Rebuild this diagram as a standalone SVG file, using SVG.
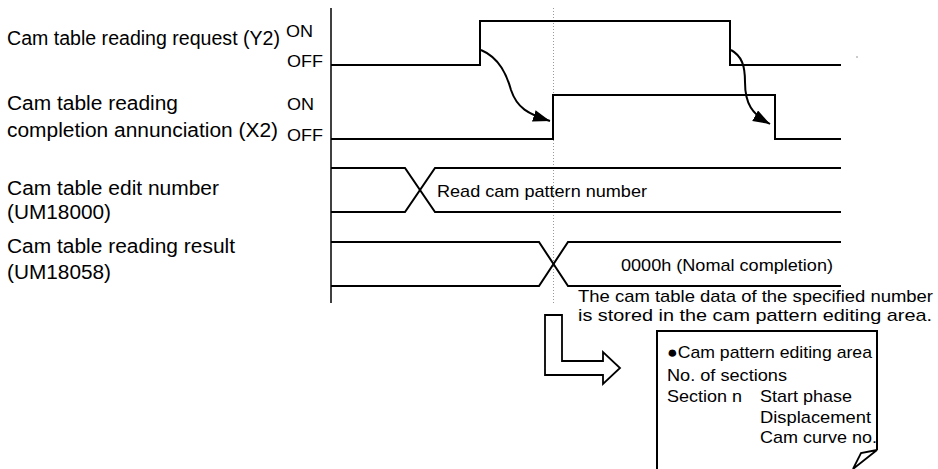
<svg xmlns="http://www.w3.org/2000/svg" width="938" height="469" viewBox="0 0 938 469">
<style>
  .lbl { font-family: "Liberation Sans", Arial, sans-serif; font-size: 20px; fill: #000; }
  .sm { font-family: "Liberation Sans", Arial, sans-serif; font-size: 17px; fill: #000; }
  .sig { fill: none; stroke: #000; stroke-width: 2; stroke-linejoin: miter; }
  .ax { fill: none; stroke: #000; stroke-width: 1.5; }
  .cur { fill: none; stroke: #000; stroke-width: 2; }
  .dot { fill: none; stroke: #999; stroke-width: 1; stroke-dasharray: 1 2; }
</style>
<defs>
  <marker id="ah" markerUnits="userSpaceOnUse" markerWidth="20" markerHeight="14" refX="17" refY="6" orient="auto">
    <path d="M0,0 L17,6 L0,12 Z" fill="#000"/>
  </marker>
</defs>
<rect width="938" height="469" fill="#fff"/>

<g id="labels">
  <text class="lbl" x="7" y="45" textLength="273" lengthAdjust="spacingAndGlyphs">Cam table reading request (Y2)</text>
  <text class="sm" x="286" y="37" textLength="27" lengthAdjust="spacingAndGlyphs">ON</text>
  <text class="sm" x="287" y="67" textLength="36" lengthAdjust="spacingAndGlyphs">OFF</text>
  <text class="lbl" x="7" y="110" textLength="171" lengthAdjust="spacingAndGlyphs">Cam table reading</text>
  <text class="lbl" x="7" y="137" textLength="271" lengthAdjust="spacingAndGlyphs">completion annunciation (X2)</text>
  <text class="sm" x="287" y="110" textLength="27" lengthAdjust="spacingAndGlyphs">ON</text>
  <text class="sm" x="287" y="141" textLength="36" lengthAdjust="spacingAndGlyphs">OFF</text>
  <text class="lbl" x="7" y="195" textLength="212" lengthAdjust="spacingAndGlyphs">Cam table edit number</text>
  <text class="lbl" x="7" y="219" textLength="104" lengthAdjust="spacingAndGlyphs">(UM18000)</text>
  <text class="lbl" x="7" y="253" textLength="228" lengthAdjust="spacingAndGlyphs">Cam table reading result</text>
  <text class="lbl" x="7" y="279" textLength="104" lengthAdjust="spacingAndGlyphs">(UM18058)</text>
</g>

<g id="axis">
  <line class="ax" x1="331" y1="8" x2="331" y2="303"/>
  <line class="dot" x1="553.5" y1="8" x2="553.5" y2="304"/>
  <circle cx="857" cy="57" r="0.8" fill="#888"/>
</g>

<g id="sig-y2">
  <path class="sig" d="M331,65 H480 V21 H730 V65 H841"/>
</g>
<g id="sig-x2">
  <path class="sig" d="M331,139 H553 V95 H775 V139 H841"/>
</g>
<g id="bus-edit">
  <path class="sig" d="M331,168 H405 L435,212 H841"/>
  <path class="sig" d="M331,212 H405 L435,168 H841"/>
  <text class="sm" x="437" y="197" textLength="210" lengthAdjust="spacingAndGlyphs">Read cam pattern number</text>
</g>
<g id="bus-result">
  <path class="sig" d="M331,242 H539 L568,286 H841"/>
  <path class="sig" d="M331,286 H539 L568,242 H841"/>
  <text class="sm" x="621" y="271" textLength="212" lengthAdjust="spacingAndGlyphs">0000h (Nomal completion)</text>
</g>

<g id="connectors">
  <path class="cur" d="M481,50 C500,58 507,76 511,90 C517,108 528,114 550,121" marker-end="url(#ah)"/>
  <path class="cur" d="M731,50 C742,56 745,66 745,82 C745,104 752,114 770,124" marker-end="url(#ah)"/>
  <polygon points="545,315 562,315 562,361 603,361 603,352 620,368 603,384 603,375 545,375" fill="#fff" stroke="#000" stroke-width="1.8" stroke-linejoin="miter"/>
</g>

<g id="note-text">
  <text class="sm" x="578" y="302" textLength="355" lengthAdjust="spacingAndGlyphs">The cam table data of the specified number</text>
  <text class="sm" x="578" y="321" textLength="354" lengthAdjust="spacingAndGlyphs">is stored in the cam pattern editing area.</text>
</g>

<g id="note-box">
  <path d="M657,470 V331 H877 V450" fill="none" stroke="#000" stroke-width="2"/>
  <path d="M877,450 L861,453 L853,469 Z" fill="#fff" stroke="#000" stroke-width="1.8" stroke-linejoin="miter"/>
  <text class="sm" x="667" y="358" textLength="205" lengthAdjust="spacingAndGlyphs">●Cam pattern editing area</text>
  <text class="sm" x="667" y="381" textLength="120" lengthAdjust="spacingAndGlyphs">No. of sections</text>
  <text class="sm" x="667" y="402" textLength="75" lengthAdjust="spacingAndGlyphs">Section n</text>
  <text class="sm" x="760" y="402" textLength="92" lengthAdjust="spacingAndGlyphs">Start phase</text>
  <text class="sm" x="760" y="423" textLength="111" lengthAdjust="spacingAndGlyphs">Displacement</text>
  <text class="sm" x="760" y="443" textLength="117" lengthAdjust="spacingAndGlyphs">Cam curve no.</text>
</g>
</svg>
